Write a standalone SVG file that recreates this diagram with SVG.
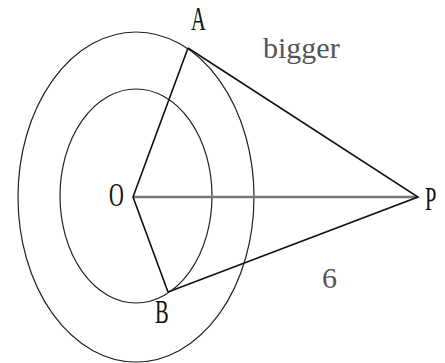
<svg xmlns="http://www.w3.org/2000/svg" width="445" height="363" viewBox="0 0 445 363">
<style>
.circ{fill:none;stroke:#222;stroke-width:1.2}
.seg{fill:none;stroke:#111;stroke-width:1.6;stroke-linejoin:miter}
.axis{fill:none;stroke:#777;stroke-width:2.6}
.lbl{font-size:33px;fill:#111}
.note{font-size:30px;fill:#555}
</style>
<rect width="445" height="363" fill="#fff"/>
<g id="outer-circle"><ellipse class="circ" cx="136" cy="197" rx="118" ry="165"/></g>
<g id="inner-circle"><ellipse class="circ" cx="136" cy="196" rx="76" ry="107"/></g>
<g id="connectors">
<line class="axis" x1="133" y1="197" x2="418" y2="197"/>
<polyline class="seg" points="188,48 133,197 168,292"/>
<polyline class="seg" points="188,48 418,197 168,292"/>
</g>
<g font-family="'Liberation Serif', 'Times New Roman', serif">
<g id="A"><text class="lbl" transform="translate(191,30) scale(0.62,1)">A</text></g>
<g id="O"><text class="lbl" transform="translate(109,206) scale(0.62,1)">O</text></g>
<g id="P"><text class="lbl" transform="translate(425,210) scale(0.62,1)">P</text></g>
<g id="B"><text class="lbl" transform="translate(155,323) scale(0.62,1)">B</text></g>
<g id="bigger"><text class="note" x="263" y="58">bigger</text></g>
<g id="six"><text class="note" x="322" y="288">6</text></g>
</g>
</svg>
